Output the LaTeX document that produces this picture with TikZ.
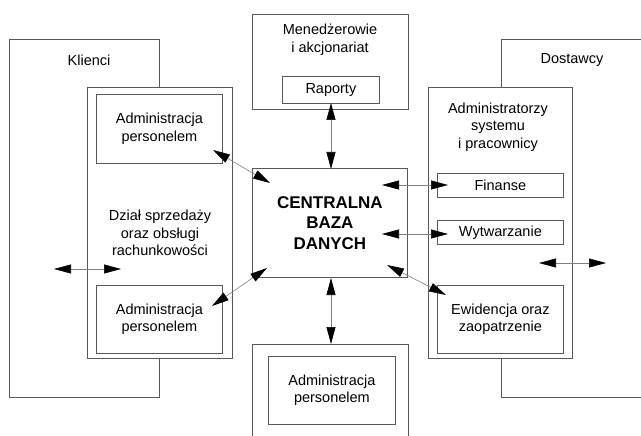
\documentclass[tikz,border=0pt]{standalone}
\usepackage{fontspec}
\setmainfont{Liberation Sans}
\usetikzlibrary{arrows.meta}
\begin{document}
\begin{tikzpicture}[x=1pt,y=-1pt,
  box/.style={draw=black!65,line width=0.8pt,fill=white,inner sep=0pt,anchor=north west,font=\fontsize{14.5}{17.5}\selectfont,align=center},
  lbl/.style={inner sep=0pt,font=\fontsize{14.5}{17.5}\selectfont,align=center},
  conn/.style={draw=black!50,line width=0.6pt,{Triangle[length=17pt,width=9pt,color=black]}-{Triangle[length=17pt,width=9pt,color=black]}}]
\useasboundingbox (0,0) rectangle (641,436);
% Klienci
\node[box,minimum width=150pt,minimum height=358pt] (klienci) at (9,39) {};
\node[lbl] (klientxt) at (89,60) {Klienci};
\node[box,minimum width=145pt,minimum height=271pt] (dzial) at (87,87) {};
\node[box,minimum width=126pt,minimum height=69pt] (admA) at (96,94) {Administracja\\personelem};
\node[box,minimum width=126pt,minimum height=68pt] (admB) at (96,285) {Administracja\\personelem};
\node[lbl] (dzialtxt) at (160,233) {Dział sprzedaży\\oraz obsługi\\rachunkowości};
% Dostawcy
\node[box,minimum width=150pt,minimum height=358pt] (dost) at (501,39) {};
\node[lbl] (dosttxt) at (572,60) {Dostawcy};
\node[box,minimum width=144pt,minimum height=271pt] (admsys) at (428,87) {};
\node[lbl] (admsystxt) at (498,127) {Administratorzy\\systemu\\i pracownicy};
\node[box,minimum width=126pt,minimum height=24pt] (fin) at (437,173) {Finanse};
\node[box,minimum width=126pt,minimum height=24pt] (wyt) at (437,220) {Wytwarzanie};
\node[box,minimum width=126pt,minimum height=68pt] (ewi) at (437,285) {Ewidencja oraz\\zaopatrzenie};
% Managers
\node[box,minimum width=156pt,minimum height=95pt] (men) at (252,14) {};
\node[lbl] (mentxt) at (330,40) {Menedżerowie\\i akcjonariat};
\node[box,minimum width=97pt,minimum height=27pt] (rap) at (282,76) {Raporty};
% Central
\node[box,minimum width=155pt,minimum height=109pt,font=\fontsize{17}{20.5}\selectfont\bfseries] (cent) at (252,168) {CENTRALNA\\BAZA\\DANYCH};
% Bottom
\node[box,minimum width=156pt,minimum height=100pt] (bot) at (252,344) {};
\node[box,minimum width=127pt,minimum height=68pt] (admC) at (268,356) {Administracja\\personelem};
% arrow end points
\coordinate (r1) at (331,103); \coordinate (r2) at (331,169);
\coordinate (b1) at (331,278); \coordinate (b2) at (331,344);
\coordinate (f1) at (382,185); \coordinate (f2) at (448,185);
\coordinate (w1) at (382,234); \coordinate (w2) at (448,234);
\coordinate (tl1) at (213,150); \coordinate (tl2) at (270,183);
\coordinate (bl1) at (267,268); \coordinate (bl2) at (212,306);
\coordinate (br1) at (387,265); \coordinate (br2) at (446,295);
\coordinate (l1) at (54,269); \coordinate (l2) at (121,269);
\coordinate (q1) at (539,263); \coordinate (q2) at (606,263);
\draw[conn] (r1) -- (r2);
\draw[conn] (b1) -- (b2);
\draw[conn] (f1) -- (f2);
\draw[conn] (w1) -- (w2);
\draw[conn] (tl1) -- (tl2);
\draw[conn] (bl1) -- (bl2);
\draw[conn] (br1) -- (br2);
\draw[conn] (l1) -- (l2);
\draw[conn] (q1) -- (q2);
\end{tikzpicture}
\end{document}
